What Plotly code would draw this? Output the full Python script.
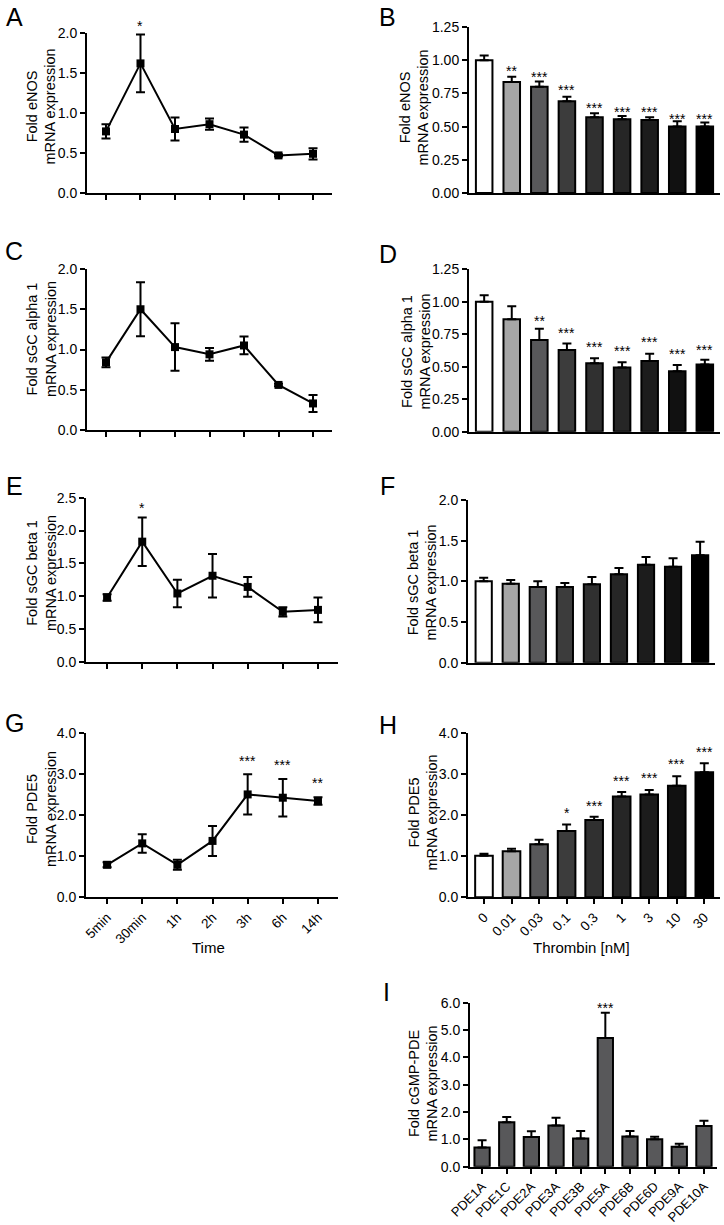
import plotly.graph_objects as go

# ---------------- data ----------------
time_labels = ["5min", "30min", "1h", "2h", "3h", "6h", "14h"]
thrombin_labels = ["0", "0.01", "0.03", "0.1", "0.3", "1", "3", "10", "30"]
pde_labels = ["PDE1A", "PDE1C", "PDE2A", "PDE3A", "PDE3B", "PDE5A", "PDE6B", "PDE6D", "PDE9A", "PDE10A"]

A_mean = [0.77, 1.62, 0.80, 0.86, 0.73, 0.47, 0.49]
A_err = [0.09, 0.36, 0.145, 0.07, 0.09, 0.015, 0.07]
B_mean = [1.00, 0.835, 0.80, 0.69, 0.57, 0.555, 0.55, 0.50, 0.50]
B_err = [0.035, 0.04, 0.04, 0.035, 0.03, 0.025, 0.02, 0.04, 0.03]
C_mean = [0.84, 1.50, 1.03, 0.94, 1.05, 0.56, 0.33]
C_err = [0.06, 0.335, 0.295, 0.08, 0.11, 0.015, 0.105]
D_mean = [1.00, 0.865, 0.706, 0.629, 0.526, 0.495, 0.544, 0.465, 0.518]
D_err = [0.05, 0.10, 0.087, 0.05, 0.039, 0.039, 0.056, 0.048, 0.036]
E_mean = [0.98, 1.83, 1.04, 1.31, 1.14, 0.76, 0.79]
E_err = [0.05, 0.37, 0.21, 0.33, 0.15, 0.07, 0.19]
F_mean = [1.00, 0.97, 0.93, 0.93, 0.963, 1.086, 1.205, 1.18, 1.32]
F_err = [0.045, 0.046, 0.07, 0.05, 0.09, 0.078, 0.095, 0.103, 0.168]
G_mean = [0.79, 1.31, 0.79, 1.37, 2.50, 2.42, 2.34]
G_err = [0.06, 0.225, 0.12, 0.365, 0.49, 0.455, 0.09]
H_mean = [1.01, 1.12, 1.29, 1.61, 1.88, 2.45, 2.50, 2.71, 3.04]
H_err = [0.05, 0.06, 0.11, 0.16, 0.08, 0.11, 0.11, 0.23, 0.22]
I_mean = [0.70, 1.63, 1.09, 1.51, 1.03, 4.71, 1.105, 1.00, 0.73, 1.49]
I_err = [0.27, 0.19, 0.21, 0.28, 0.28, 0.92, 0.205, 0.10, 0.11, 0.19]

# significance marks: (category index, text, y value of the mark)
A_stars = [(1, "*", 2.125)]
B_stars = [(1, "**", 0.94), (2, "***", 0.895), (3, "***", 0.795), (4, "***", 0.66),
           (5, "***", 0.63), (6, "***", 0.63), (7, "***", 0.58), (8, "***", 0.58)]
D_stars = [(2, "**", 0.878), (3, "***", 0.783), (4, "***", 0.672), (5, "***", 0.642),
           (6, "***", 0.714), (7, "***", 0.624), (8, "***", 0.649)]
E_stars = [(1, "*", 2.39)]
G_stars = [(4, "***", 3.38), (5, "***", 3.30), (6, "**", 2.85)]
H_stars = [(3, "*", 2.11), (4, "***", 2.30), (5, "***", 2.91), (6, "***", 2.96),
           (7, "***", 3.31), (8, "***", 3.61)]
I_stars = [(5, "***", 5.90)]

bar_colors = ["#ffffff", "#a6a6a6", "#58585a", "#3c3c3c", "#303030",
              "#262626", "#1c1c1c", "#111111", "#000000"]
pde_color = "#58585a"

# ---------------- layout helpers ----------------
W, H = 724, 1225
FONT = "Liberation Sans, Arial, Helvetica, sans-serif"

fig = go.Figure()
layout = dict(width=W, height=H, template="none",
              margin=dict(l=0, r=0, t=0, b=0, pad=0, autoexpand=False),
              paper_bgcolor="white", plot_bgcolor="white", showlegend=False,
              font=dict(family=FONT, color="black", size=13))
annotations = []
y_max = {}


def ax(letter, n):
    return letter if n == 1 else "%s%d" % (letter, n)


def xd(a, b):
    return [a / W, b / W]


def yd(top, bottom):
    return [1 - bottom / H, 1 - top / H]


def paper_text(txt, cx, cy, size, angle=0):
    annotations.append(dict(x=cx / W, y=1 - cy / H, xref="paper", yref="paper", text=txt,
                            showarrow=False, xanchor="center", yanchor="middle",
                            textangle=angle, font=dict(size=size, family=FONT, color="black")))


def add_axes(n, xdom, ydom, xrange, yrange, dtick, fmt, cats,
             xlabels=False, xticks=True, xfont=13.5):
    y_max[n] = yrange[1]
    xa = dict(domain=xdom, anchor=ax("y", n), type="category",
              categoryorder="array", categoryarray=cats, automargin=False,
              range=xrange, showline=True, linecolor="black", linewidth=2,
              showgrid=False, zeroline=False,
              ticks="outside" if xticks else "", ticklen=5, tickwidth=2, tickcolor="black",
              showticklabels=xlabels, tickangle=-45,
              tickfont=dict(size=xfont, family=FONT, color="black"))
    ya = dict(domain=ydom, anchor=ax("x", n), range=yrange, dtick=dtick, tick0=0,
              tickformat=fmt, showline=True, linecolor="black", linewidth=2,
              showgrid=False, zeroline=False, ticks="outside", ticklen=5,
              tickwidth=2, tickcolor="black", automargin=False,
              tickfont=dict(size=14, family=FONT, color="black"))
    layout[ax("xaxis", n)] = xa
    layout[ax("yaxis", n)] = ya


def add_line(n, cats, mean, err):
    fig.add_trace(go.Scatter(
        x=cats, y=mean, xaxis=ax("x", n), yaxis=ax("y", n), mode="lines+markers",
        line=dict(color="black", width=2),
        marker=dict(symbol="square", size=8, color="black"),
        error_y=dict(type="data", array=err, symmetric=True, color="black",
                     thickness=2, width=4.5),
        cliponaxis=False))


def add_bars(n, cats, mean, err, colors, width):
    fig.add_trace(go.Bar(
        x=cats, y=mean, xaxis=ax("x", n), yaxis=ax("y", n), width=width,
        marker=dict(color=colors, line=dict(color="black", width=2)),
        error_y=dict(type="data", array=err, arrayminus=[0] * len(err),
                     symmetric=False, color="black", thickness=2, width=4.5)))


def add_stars(n, stars):
    # y given in data units; expressed relative to the axis domain so that
    # marks above the top of the axis stay visible
    for idx, txt, yv in stars:
        annotations.append(dict(x=idx, y=yv / y_max[n], xref=ax("x", n),
                                yref=ax("y", n) + " domain",
                                text=txt, showarrow=False, yanchor="middle",
                                yshift=-3, font=dict(size=14, family=FONT, color="black")))


# ---------------- panels ----------------
# A
add_axes(1, xd(87, 332), yd(33, 193), [-0.55, 6.55], [0, 2.0], 0.5, ".1f", time_labels)
add_line(1, time_labels, A_mean, A_err)
add_stars(1, A_stars)
# B
add_axes(2, xd(469, 720), yd(27, 193), [-0.55, 8.55], [0, 1.25], 0.25, ".2f",
         thrombin_labels, xticks=False)
add_bars(2, thrombin_labels, B_mean, B_err, bar_colors, 0.6)
add_stars(2, B_stars)
# C
add_axes(3, xd(87, 332), yd(269, 430), [-0.55, 6.55], [0, 2.0], 0.5, ".1f", time_labels)
add_line(3, time_labels, C_mean, C_err)
# D
add_axes(4, xd(469, 720), yd(269.3, 431.7), [-0.55, 8.55], [0, 1.25], 0.25, ".2f",
         thrombin_labels, xticks=False)
add_bars(4, thrombin_labels, D_mean, D_err, bar_colors, 0.6)
add_stars(4, D_stars)
# E
add_axes(5, xd(86, 338), yd(497.7, 661.7), [-0.6, 6.57], [0, 2.5], 0.5, ".1f", time_labels)
add_line(5, time_labels, E_mean, E_err)
add_stars(5, E_stars)
# F
add_axes(6, xd(468, 715), yd(500, 662.7), [-0.58, 8.55], [0, 2.0], 0.5, ".1f",
         thrombin_labels, xticks=False)
add_bars(6, thrombin_labels, F_mean, F_err, bar_colors, 0.6)
# G
add_axes(7, xd(86, 338), yd(732.7, 897.3), [-0.6, 6.57], [0, 4.0], 1.0, ".1f",
         time_labels, xlabels=True)
add_line(7, time_labels, G_mean, G_err)
add_stars(7, G_stars)
# H
add_axes(8, xd(468, 720), yd(732.7, 897.3), [-0.58, 8.57], [0, 4.0], 1.0, ".1f",
         thrombin_labels, xlabels=True)
add_bars(8, thrombin_labels, H_mean, H_err, bar_colors, 0.64)
add_stars(8, H_stars)
# I
add_axes(9, xd(470, 717), yd(1002.7, 1166.7), [-0.49, 9.53], [0, 6.0], 1.0, ".1f",
         pde_labels, xlabels=True, xfont=13)
add_bars(9, pde_labels, I_mean, I_err, [pde_color] * len(pde_labels), 0.62)
add_stars(9, I_stars)

# axis titles
y_titles = [("Fold eNOS<br>mRNA expression", 40.5, 107),
            ("Fold eNOS<br>mRNA expression", 414.5, 108),
            ("Fold sGC alpha 1<br>mRNA expression", 41, 339),
            ("Fold sGC alpha 1<br>mRNA expression", 415.5, 352),
            ("Fold sGC beta 1<br>mRNA expression", 41, 573),
            ("Fold sGC beta 1<br>mRNA expression", 422.5, 583),
            ("Fold PDE5<br>mRNA expression", 41, 809),
            ("Fold PDE5<br>mRNA expression", 422.5, 813),
            ("Fold cGMP-PDE<br>mRNA expression", 422.5, 1084)]
for txt, cx, cy in y_titles:
    paper_text(txt, cx, cy, 14.5, angle=-90)
paper_text("Time", 208, 947, 15)
paper_text("Thrombin [nM]", 581, 947, 15)

# panel letters
for t, x, y in [("A", 14, 15), ("B", 387, 15), ("C", 14, 249), ("D", 388, 252),
                ("E", 14, 484), ("F", 387, 484), ("G", 14, 721), ("H", 388, 723),
                ("I", 386, 990)]:
    annotations.append(dict(x=x / W, y=1 - y / H, xref="paper", yref="paper", text=t,
                            showarrow=False, xanchor="center", yanchor="middle", yshift=-2,
                            font=dict(size=25, family=FONT, color="black")))

layout["annotations"] = annotations
fig.update_layout(**layout)
fig.write_html("out.html", config={"displayModeBar": False},
               post_script="document.body.style.margin='0';document.body.style.overflow='hidden';")
